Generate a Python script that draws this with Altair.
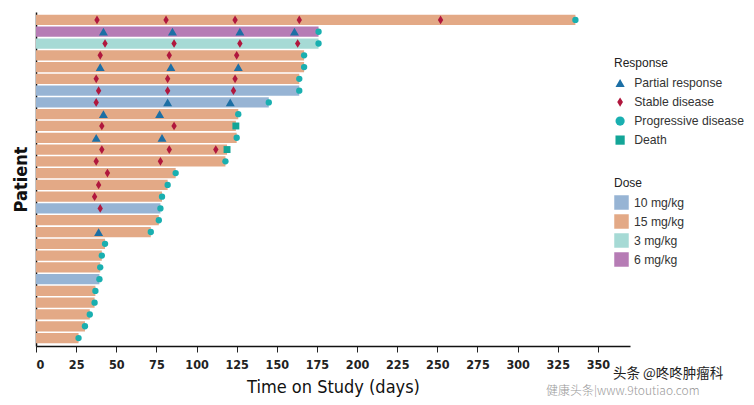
import altair as alt
import pandas as pd

# ---------------- data (rows listed top to bottom) ----------------
patients = [f"P{i:02d}" for i in range(1, 29)]
doses = ["15 mg/kg", "6 mg/kg", "3 mg/kg", "15 mg/kg", "15 mg/kg", "15 mg/kg",
         "10 mg/kg", "10 mg/kg", "15 mg/kg", "15 mg/kg", "15 mg/kg", "15 mg/kg",
         "15 mg/kg", "15 mg/kg", "15 mg/kg", "15 mg/kg", "10 mg/kg", "15 mg/kg",
         "15 mg/kg", "15 mg/kg", "15 mg/kg", "15 mg/kg", "10 mg/kg", "15 mg/kg",
         "15 mg/kg", "15 mg/kg", "15 mg/kg", "15 mg/kg"]
end_days = [336, 176, 176, 167, 167, 164, 164, 145, 126, 124.5, 125, 119,
            118, 87, 82, 78.5, 77.5, 76.5, 71.5, 43, 41, 40, 39.5, 37,
            36.5, 33.5, 30.5, 26.5]

# events: row number (1 = top) -> days
partial_response = {2: [42, 85, 127, 161], 5: [40, 84, 126], 8: [82, 121],
                    9: [42, 77], 11: [37.5, 78.5], 19: [39]}
stable_disease = {1: [38, 81, 124, 164, 252], 3: [43, 86, 127, 163],
                  4: [40, 83, 125], 6: [37.5, 82, 124], 7: [39, 82, 123],
                  8: [37.5], 10: [41, 86], 12: [41, 83, 112], 13: [37.5, 77.5],
                  14: [44.5], 15: [39], 16: [36.5], 17: [40]}
death = {10: 124.5, 12: 119}
progressive_rows = [r for r in range(1, 29) if r not in death]

dose_levels = ["10 mg/kg", "15 mg/kg", "3 mg/kg", "6 mg/kg"]
dose_colors = ["#97B4D4", "#E3A986", "#A6DAD5", "#B67CB5"]
resp_levels = ["Partial response", "Stable disease", "Progressive disease", "Death"]
resp_colors = ["#1C6FA5", "#B0173D", "#19AFB0", "#13A597"]
resp_shapes = ["triangle-up", "M0,-1L0.62,0L0,1L-0.62,0Z", "circle", "square"]
marker_sizes = [80, 75, 40, 48]
x_ticks = list(range(0, 351, 25))
watermark = ["头条 @咚咚肿瘤科", "健康头条|www.9toutiao.com"]

# ---------------- tables ----------------
bars = pd.DataFrame({"patient": patients, "dose": doses,
                     "start": [0] * len(patients), "end": end_days})
rows = []
for r, days in partial_response.items():
    rows += [{"patient": patients[r - 1], "day": d, "resp": "Partial response"} for d in days]
for r, days in stable_disease.items():
    rows += [{"patient": patients[r - 1], "day": d, "resp": "Stable disease"} for d in days]
for r in progressive_rows:
    rows.append({"patient": patients[r - 1], "day": end_days[r - 1], "resp": "Progressive disease"})
for r, d in death.items():
    rows.append({"patient": patients[r - 1], "day": d, "resp": "Death"})
events = pd.DataFrame(rows)

FONT = "Liberation Sans Narrow, DejaVu Sans Condensed, Liberation Sans, sans-serif"
LFONT = "Liberation Sans, Arial, sans-serif"

x_scale = alt.Scale(domain=[0, 370], nice=False, zero=False)
y_scale = alt.Scale(domain=patients, paddingInner=0.13, paddingOuter=0.24)

x_axis = alt.Axis(values=x_ticks, title="Time on Study (days)", grid=False,
                  domainColor="#111", domainWidth=1.5, tickColor="#222", tickSize=6,
                  tickWidth=1, labelFont=FONT, labelFontSize=12.5, labelFontWeight="bold",
                  labelColor="#222", labelPadding=6, titleFont=FONT, titleFontSize=18,
                  titleFontWeight="normal", titleColor="#111", titlePadding=8)
y_axis = alt.Axis(title="Patient", labels=False, ticks=False, grid=False,
                  domainColor="#111", domainWidth=1.5, titleFont=FONT,
                  titleFontSize=18, titleFontWeight="bold", titleColor="#111",
                  titlePadding=6)

resp_legend = alt.Legend(title="Response", orient="none", legendX=578,
                         legendY=46, symbolSize=85, symbolStrokeWidth=0,
                         titleFont=LFONT, titleFontSize=12,
                         titleFontWeight=500, titleColor="#222",
                         labelFont=LFONT, labelFontSize=12.2,
                         labelColor="#333", rowPadding=6,
                         titlePadding=7, labelOffset=8)

bar_layer = alt.Chart(bars).mark_bar(opacity=1).encode(
    x=alt.X("start:Q", scale=x_scale, axis=x_axis),
    x2="end:Q",
    y=alt.Y("patient:N", scale=y_scale, axis=y_axis, sort=patients),
    color=alt.Color("dose:N", scale=alt.Scale(domain=dose_levels, range=dose_colors),
                    legend=alt.Legend(title="Dose", orient="none", legendX=578, legendY=166,
                                      symbolType="square", symbolSize=210,
                                      symbolStrokeWidth=0, symbolOpacity=1,
                                      titleFont=LFONT, titleFontSize=12,
                                      titleFontWeight=500, titleColor="#222",
                                      labelFont=LFONT, labelFontSize=12.2,
                                      labelColor="#333", rowPadding=4,
                                      titlePadding=5, labelOffset=5)),
)

resp_color = alt.Color("resp:N", scale=alt.Scale(domain=resp_levels, range=resp_colors),
                       legend=resp_legend)
resp_shape = alt.Shape("resp:N", scale=alt.Scale(domain=resp_levels, range=resp_shapes),
                       legend=resp_legend)

point_layers = []
for lvl, sz in zip(resp_levels, marker_sizes):
    point_layers.append(
        alt.Chart(events).transform_filter(alt.datum.resp == lvl)
        .mark_point(filled=True, opacity=1, strokeWidth=0, size=sz)
        .encode(x=alt.X("day:Q", scale=x_scale),
                y=alt.Y("patient:N", scale=y_scale, sort=patients),
                color=resp_color, shape=resp_shape)
    )
points = alt.layer(*point_layers)

wm = pd.DataFrame({"t": watermark})
wm1 = alt.Chart(wm).transform_filter(alt.datum.t == watermark[0]).mark_text(
    align="left", baseline="middle", fontSize=13.5, font="Noto Sans CJK SC",
    color="#222"
).encode(text="t:N", x=alt.value(577), y=alt.value(362))
wm2 = alt.Chart(wm).transform_filter(alt.datum.t == watermark[1]).mark_text(
    align="left", baseline="middle", fontSize=12, font="Noto Sans CJK SC",
    color="#9a9a9a", fontWeight=300
).encode(text="t:N", x=alt.value(510), y=alt.value(378.5))

chart = alt.layer(bar_layer, points, wm1, wm2).resolve_scale(
    color="independent", shape="independent"
).properties(
    width=594, height=334,
    autosize=alt.AutoSizeParams(type="none"),
    padding={"left": 28, "top": 4, "right": 116, "bottom": 51},
).configure(background="white").configure_view(stroke=None)

chart.save("out.html", embed_options={"renderer": "svg", "actions": False})
